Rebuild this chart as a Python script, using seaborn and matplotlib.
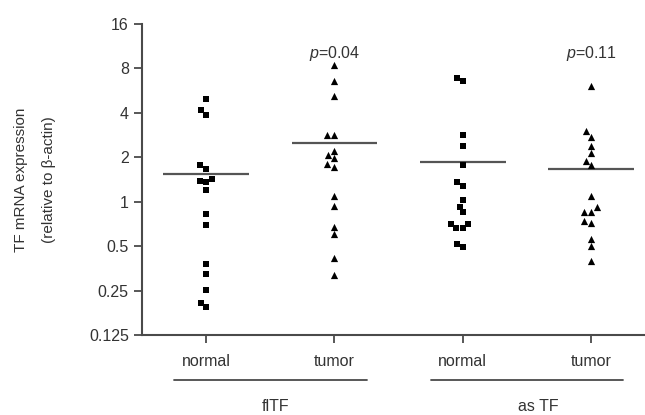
import numpy as np
import pandas as pd
import seaborn as sns
import matplotlib
matplotlib.use('Agg')
import matplotlib.pyplot as plt
from matplotlib.ticker import FixedLocator, FixedFormatter, NullLocator

# values (relative to beta-actin)
fltf_normal = [4.93, 4.15, 3.88, 1.76, 1.67, 1.43, 1.39, 1.37, 1.20, 0.83, 0.70,
               0.381, 0.322, 0.254, 0.207, 0.194]
fltf_tumor = [8.5, 6.57, 5.17, 2.85, 2.85, 2.22, 2.08, 1.98, 1.80, 1.73, 1.10,
              0.94, 0.676, 0.60, 0.415, 0.318]
astf_normal = [6.93, 6.57, 2.81, 2.37, 1.78, 1.35, 1.28, 1.03, 0.925, 0.846,
               0.705, 0.705, 0.66, 0.66, 0.52, 0.49]
astf_tumor = [6.05, 2.99, 2.76, 2.40, 2.13, 1.90, 1.76, 1.10, 0.915, 0.846,
              0.846, 0.735, 0.717, 0.563, 0.50, 0.397]

groups = ['fl_normal', 'fl_tumor', 'as_normal', 'as_tumor']
tick_labels = ['normal', 'tumor', 'normal', 'tumor']
gene_labels = ['flTF', 'as TF']
p_values = ['0.04', '0.11']
yticks = [0.125, 0.25, 0.5, 1, 2, 4, 8, 16]
ytick_labels = ['0.125', '0.25', '0.5', '1', '2', '4', '8', '16']

rows = []
for g, vals in zip(groups, [fltf_normal, fltf_tumor, astf_normal, astf_tumor]):
    for v in vals:
        rows.append((g, v))
df = pd.DataFrame(rows, columns=['group', 'value'])

sns.set_style('white')
plt.rcParams['font.family'] = ['Liberation Sans', 'DejaVu Sans']
plt.rcParams['mathtext.fontset'] = 'custom'
plt.rcParams['mathtext.it'] = 'Liberation Sans:italic'
plt.rcParams['mathtext.rm'] = 'Liberation Sans'

axcol = '#4a4a4a'
txtcol = '#333333'
fs = 11.5

fig = plt.figure(figsize=(6.45, 4.15), dpi=100)
ax = fig.add_axes([0.2202, 0.1928, 0.7798, 0.7494])
ax.set_yscale('log', base=2)
ax.set_ylim(0.125, 16)

normal = df[df['group'].str.endswith('normal')]
tumor = df[df['group'].str.endswith('tumor')]
sns.swarmplot(data=normal, x='group', y='value', order=groups, marker='s',
              color='black', size=4.6, ax=ax)
sns.swarmplot(data=tumor, x='group', y='value', order=groups, marker='^',
              color='black', size=5.2, ax=ax)

# mean lines
means = df.groupby('group')['value'].mean().reindex(groups)
for i, m in enumerate(means):
    ax.hlines(m, i - 0.335, i + 0.335, color='#555555', lw=1.6, zorder=1)

ax.set_xlim(-0.5, 3.42)
ax.yaxis.set_major_locator(FixedLocator(yticks))
ax.yaxis.set_major_formatter(FixedFormatter(ytick_labels))
ax.yaxis.set_minor_locator(NullLocator())
ax.set_xticks(range(4))
ax.set_xticklabels(tick_labels)
ax.set_xlabel('')
ax.set_ylabel('TF mRNA expression\n(relative to β-actin)', fontsize=11,
              color=txtcol, labelpad=24, linespacing=2.2)
ax.tick_params(axis='both', direction='out', length=6, width=1.3, color=axcol,
               labelsize=fs, labelcolor=txtcol, left=True, bottom=True)
ax.tick_params(axis='x', pad=8)
for s in ['top', 'right']:
    ax.spines[s].set_visible(False)
for s in ['left', 'bottom']:
    ax.spines[s].set_color(axcol)
    ax.spines[s].set_linewidth(1.5)

# group brackets under the axis
trans = ax.get_xaxis_transform()
for k, lab in enumerate(gene_labels):
    c = 2 * k + 0.5
    ax.plot([c - 0.75, c + 0.75], [-0.145, -0.145], transform=trans,
            color=axcol, lw=1.3, clip_on=False)
    ax.text(c + 0.04 + 0.05 * k, -0.23, lab, transform=trans, ha='center',
            va='center', fontsize=fs, color=txtcol)

# p-values above tumor groups
for k, p in enumerate(p_values):
    ax.text(2 * k + 1, 10.1, '$p$=' + p, ha='center', va='center',
            fontsize=fs, color=txtcol)

fig.savefig('out.png', dpi=100)
